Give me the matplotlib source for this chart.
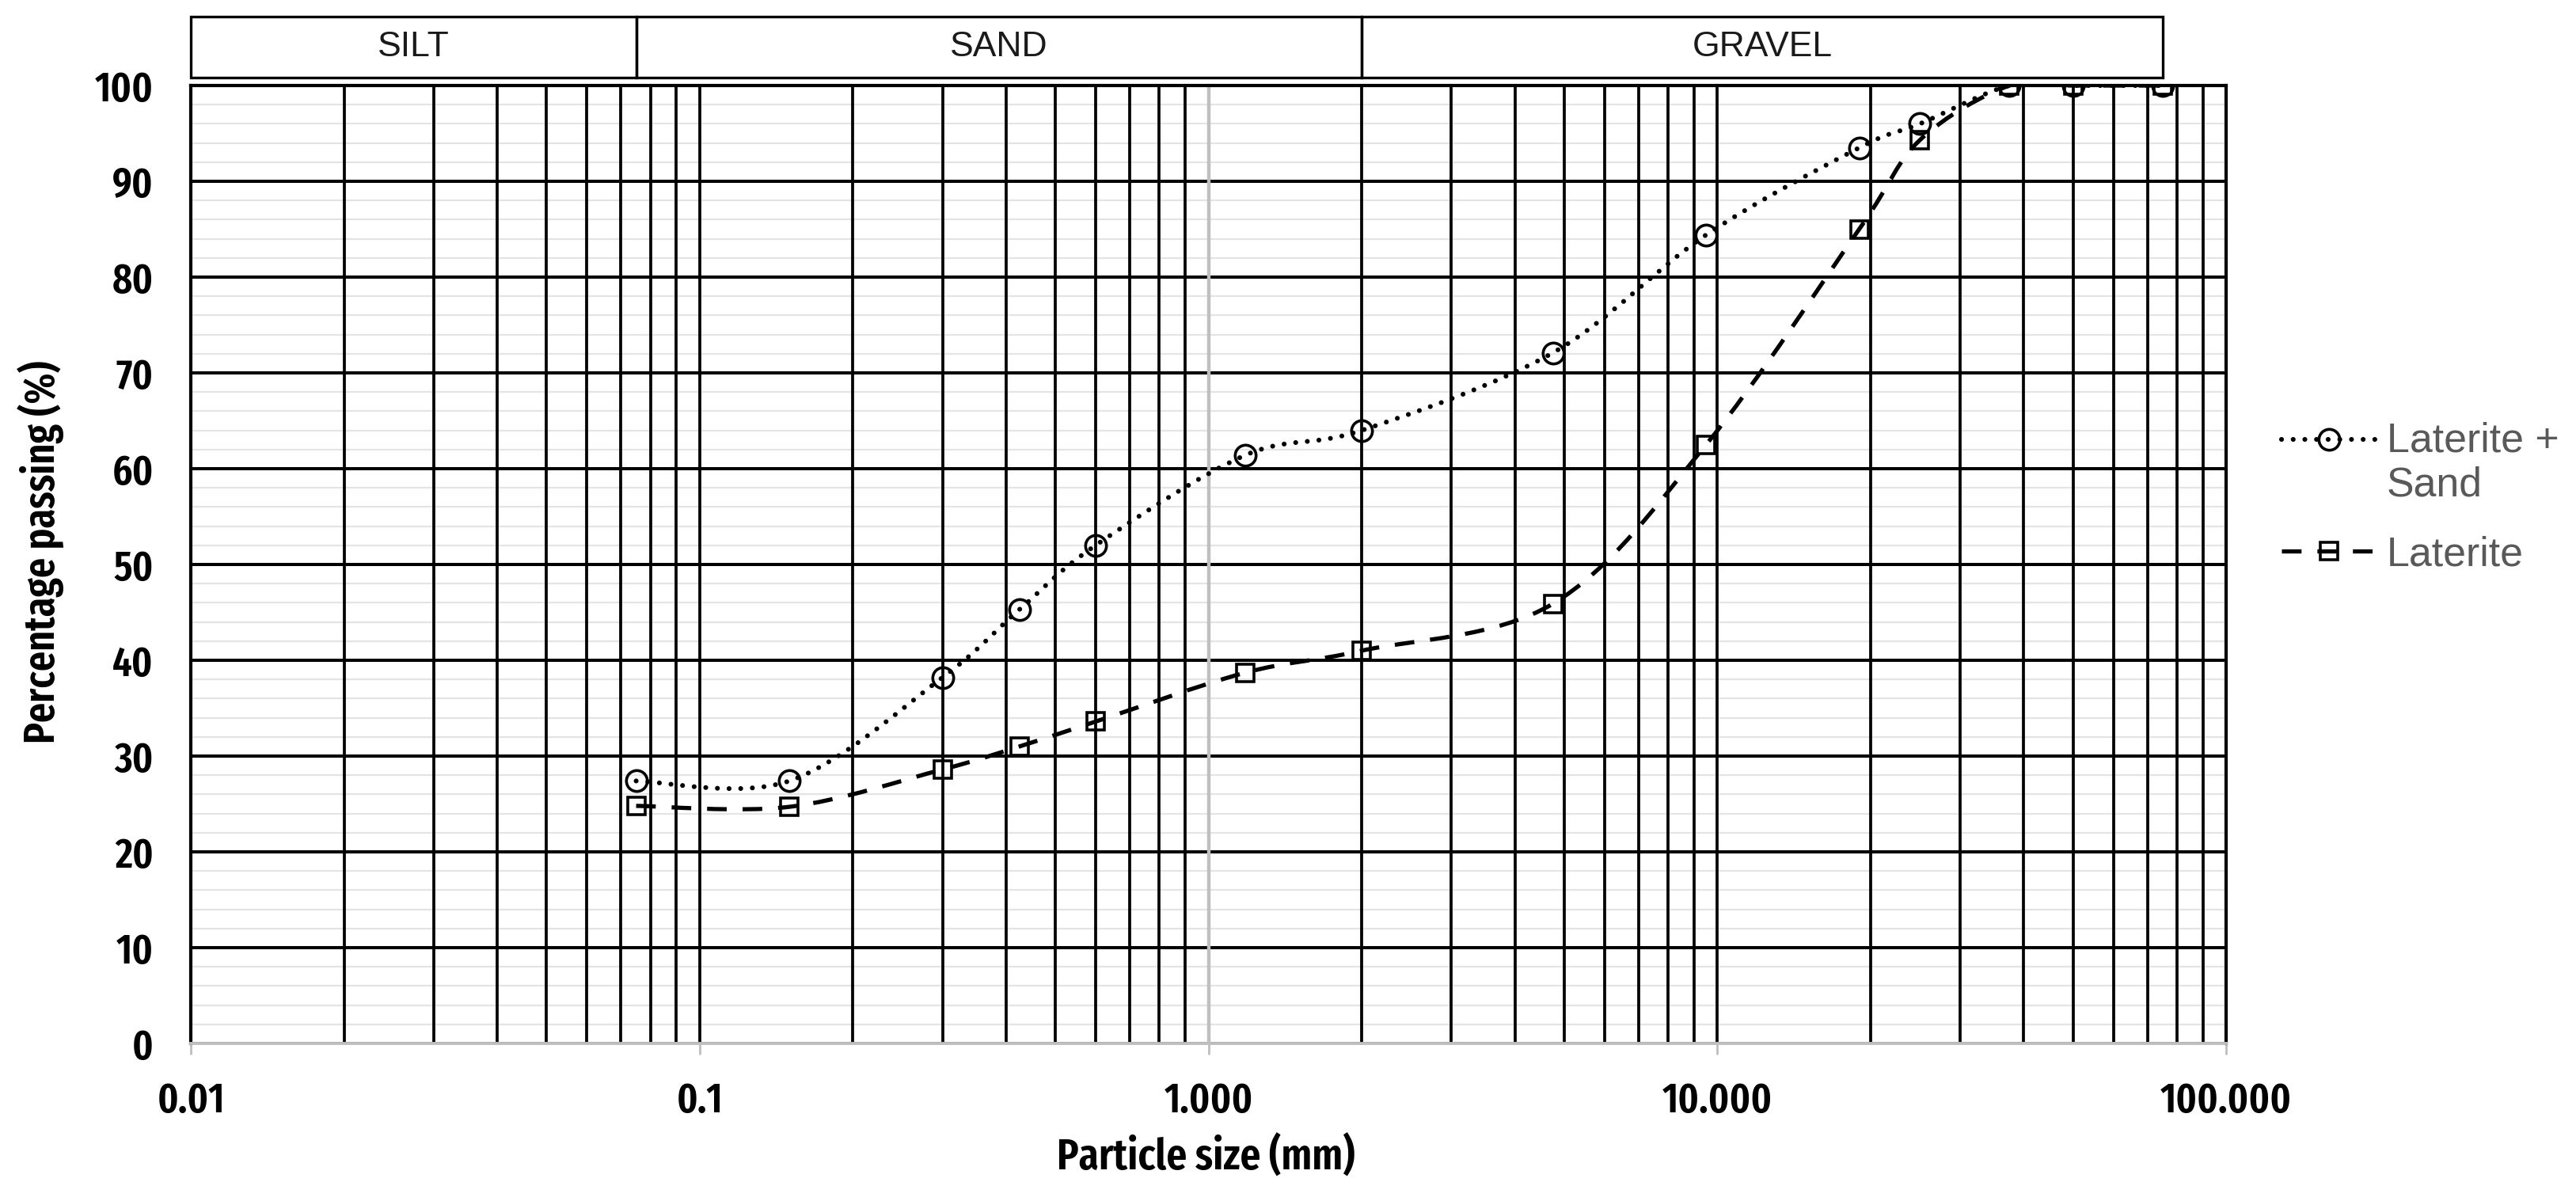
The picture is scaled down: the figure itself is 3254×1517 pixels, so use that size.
import os
import numpy as np
import matplotlib
matplotlib.use("Agg")
import matplotlib.pyplot as plt
import matplotlib.transforms as mtransforms
from matplotlib import font_manager
from matplotlib.font_manager import FontProperties
from matplotlib.path import Path
from matplotlib.patches import PathPatch, Rectangle
from matplotlib.lines import Line2D
from matplotlib.legend_handler import HandlerLine2D
from matplotlib.ticker import FixedLocator, FixedFormatter, NullFormatter

# sieve sizes (mm) and percentage passing
sizes = [0.075, 0.15, 0.3, 0.425, 0.6, 1.18, 2.0, 4.75, 9.5, 19.0, 25.0, 37.5, 50.0, 75.0]
laterite_sand = [27.4, 27.4, 38.2, 45.3, 52.0, 61.4, 64.0, 72.1, 84.4, 93.5, 96.0, 100, 100, 100]
laterite = [24.8, 24.7, 28.6, 31.0, 33.6, 38.7, 41.0, 45.9, 62.5, 85.0, 94.3, 100, 100, 100]
series_names = ["Laterite +\nSand", "Laterite"]

zones = ["SILT", "SAND", "GRAVEL"]
zone_edges = [0.01, 0.075, 2.0, 75.0]

xtick_vals = [0.01, 0.1, 1, 10, 100]
xtick_text = ["0.01", "0.1", "1.000", "10.000", "100.000"]
yticks = list(range(0, 101, 10))
minor_y = [v for v in range(2, 100, 2) if v % 10]

names = {f.name for f in font_manager.fontManager.ttflist}
arial = "Liberation Sans" if "Liberation Sans" in names else "DejaVu Sans"


def find_condensed(target_weight=600):
    # look for a narrow sans face among the installed fonts
    width_rank = {"extra-condensed": 0, "ultra-condensed": 1, "condensed": 2, "semi-condensed": 3}
    best, best_score = None, None
    for f in font_manager.fontManager.ttflist:
        base = os.path.basename(f.fname).lower()
        key = f.name.lower() + " " + base
        if "serif" in key.replace("sans-serif", "") or "mono" in key or "italic" in key or "oblique" in key:
            continue
        if "extracondensed" in base or "extra condensed" in key:
            w = 0
        elif "semicondensed" in base:
            w = 3
        elif "condensed" in key or "narrow" in key or "cond" in base:
            w = 2
        elif f.stretch in width_rank:
            w = width_rank[f.stretch]
        else:
            continue
        wt = f.weight if isinstance(f.weight, (int, float)) else 400
        score = (w, abs(wt - target_weight))
        if best_score is None or score < best_score:
            best, best_score = f, score
    if best is None:
        return FontProperties(family="DejaVu Sans", stretch="condensed", weight="bold")
    return FontProperties(fname=best.fname)


cond_fp = find_condensed(600)


def smooth_path(x, y):
    # excel style smoothed line: cubic bezier through the points (in log-x space)
    lx = np.log10(x)
    y = np.asarray(y, float)
    n = len(lx)
    verts = [(x[0], y[0])]
    codes = [Path.MOVETO]
    for i in range(n - 1):
        i0 = max(i - 1, 0)
        i3 = min(i + 2, n - 1)
        c1x = lx[i] + (lx[i + 1] - lx[i0]) / 6
        c1y = y[i] + (y[i + 1] - y[i0]) / 6
        c2x = lx[i + 1] - (lx[i3] - lx[i]) / 6
        c2y = y[i + 1] - (y[i3] - y[i]) / 6
        verts += [(10 ** c1x, c1y), (10 ** c2x, c2y), (x[i + 1], y[i + 1])]
        codes += [Path.CURVE4] * 3
    return Path(verts, codes)


class ShiftHandler(HandlerLine2D):
    # legend handle lifted to the first line of a two line label
    def __init__(self, dy=0, **kw):
        super().__init__(**kw)
        self.dy = dy

    def create_artists(self, legend, orig_handle, xdescent, ydescent, width, height, fontsize, trans):
        return super().create_artists(legend, orig_handle, xdescent, ydescent - 2 * self.dy,
                                      width, height, fontsize, trans)


fig = plt.figure(figsize=(16.27, 7.585), dpi=200)
ax = fig.add_axes([0.0741, 0.1312, 0.7901, 0.7976])
ax.set_xscale("log")
ax.set_xlim(0.01, 100)
ax.set_ylim(0, 100)

# grid
ax.xaxis.set_major_locator(FixedLocator(xtick_vals))
ax.xaxis.set_major_formatter(FixedFormatter(xtick_text))
minor_x = [m * 10.0 ** k for k in range(-2, 2) for m in range(2, 10)]
ax.xaxis.set_minor_locator(FixedLocator(minor_x))
ax.xaxis.set_minor_formatter(NullFormatter())
ax.yaxis.set_major_locator(FixedLocator(yticks))

ax.hlines(minor_y, 0.01, 100, color="#E4E4E4", lw=0.8, zorder=0.2)
ax.grid(True, which="major", axis="y", color="black", lw=1.45)
ax.grid(True, which="both", axis="x", color="black", lw=1.35)
ax.set_axisbelow(True)
ax.axvline(1, color="#BFBFBF", lw=1.6, zorder=1)

for side in ["left", "top", "right"]:
    ax.spines[side].set_color("black")
    ax.spines[side].set_linewidth(1.5)
ax.spines["bottom"].set_color("#BFBFBF")
ax.spines["bottom"].set_linewidth(1.4)

ax.tick_params(axis="y", which="both", length=0, pad=17)
ax.tick_params(axis="x", which="major", length=5, width=1, color="#BFBFBF", pad=12)
ax.tick_params(axis="x", which="minor", length=0)
for lab in ax.get_xticklabels() + ax.get_yticklabels():
    lab.set_fontproperties(cond_fp)
    lab.set_fontsize(19)

ax.set_xlabel("Particle size (mm)", fontproperties=cond_fp, fontsize=20, va="center")
ax.xaxis.set_label_coords(0.4986, -0.119)
ax.set_ylabel("Percentage passing (%)", fontproperties=cond_fp, fontsize=19.5, va="center")
ax.yaxis.set_label_coords(-0.0735, 0.513)

# curves
dot_style = (0, (0.01, 2.4))
dash_style = (0, (4.7, 3.8))
p1 = PathPatch(smooth_path(sizes, laterite_sand), fill=False, edgecolor="black",
               lw=2.2, linestyle=dot_style, capstyle="round", zorder=3)
ax.add_patch(p1)
ax.plot(sizes, laterite_sand, linestyle="none", marker="o", ms=9.5, mfc="none",
        mec="black", mew=1.3, zorder=4)
p2 = PathPatch(smooth_path(sizes, laterite), fill=False, edgecolor="black",
               lw=1.9, linestyle=dash_style, capstyle="butt", zorder=3)
ax.add_patch(p2)
ax.plot(sizes, laterite, linestyle="none", marker="s", ms=8, mfc="none",
        mec="black", mew=1.3, zorder=4)

# soil classification boxes above the plot
trans = mtransforms.blended_transform_factory(ax.transData, ax.transAxes)
for name, x0, x1 in zip(zones, zone_edges[:-1], zone_edges[1:]):
    ax.add_patch(Rectangle((x0, 1.0083), x1 - x0, 0.0636, transform=trans, fill=False,
                           edgecolor="black", lw=1.2, clip_on=False))
    ax.text(np.sqrt(x0 * x1), 1.040, name, transform=trans, ha="center", va="center",
            fontsize=16, family=arial, color="#1a1a1a")

# legend
h1 = Line2D([], [], color="black", lw=2.2, linestyle=dot_style, dash_capstyle="round",
            marker="o", ms=9.5, mfc="none", mec="black", mew=1.3)
h2 = Line2D([], [], color="black", lw=1.9, linestyle=dash_style,
            marker="s", ms=8, mfc="none", mec="black", mew=1.3)
leg = ax.legend([h1, h2], series_names, loc="upper left", bbox_to_anchor=(0.8857, 0.6493),
                bbox_transform=fig.transFigure, frameon=False, borderpad=0, borderaxespad=0,
                handlelength=2.3, handletextpad=0.25, labelspacing=0.75, numpoints=1,
                handler_map={h1: ShiftHandler(dy=11)},
                prop={"family": arial, "size": 18.7}, labelcolor="#595959")

fig.savefig("out.png", dpi=200)
